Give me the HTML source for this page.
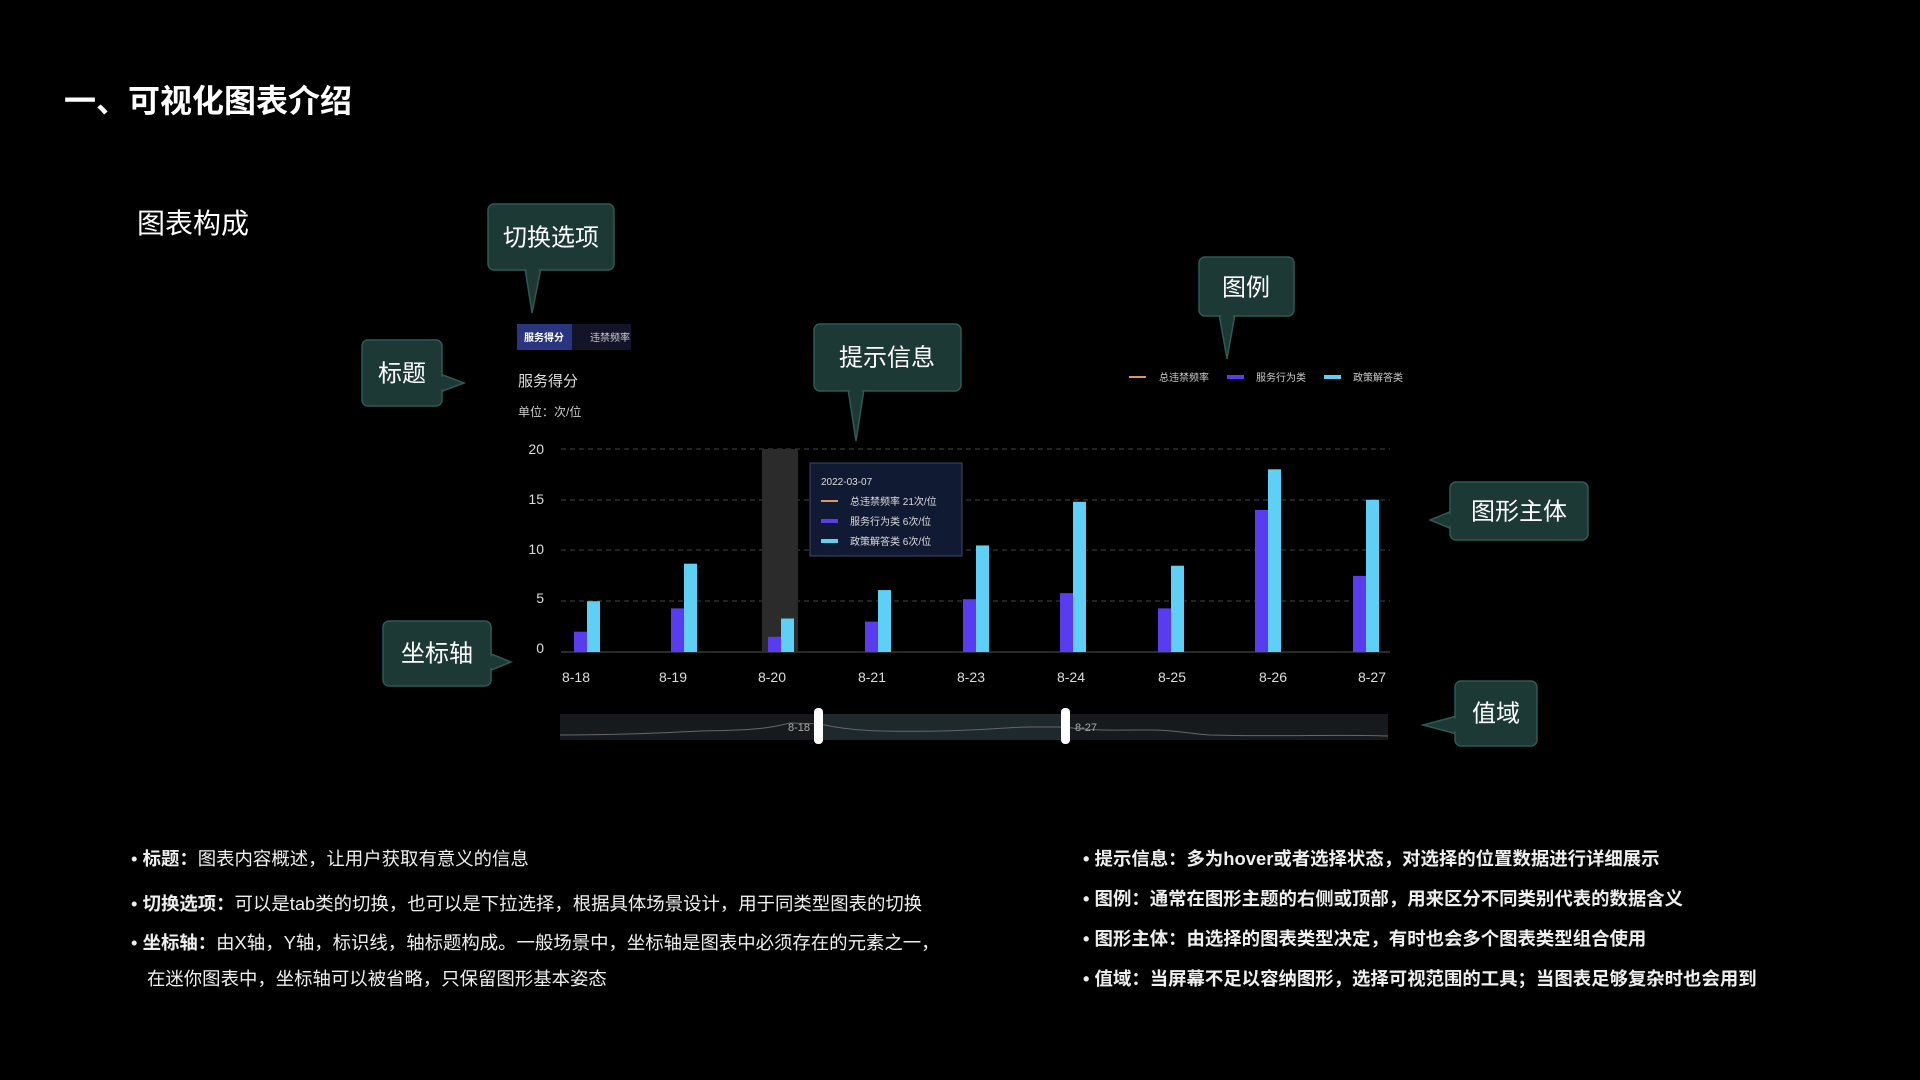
<!DOCTYPE html>
<html><head><meta charset="utf-8"><style>
html,body{margin:0;padding:0;background:#000;}
body{width:1920px;height:1080px;overflow:hidden;position:relative;font-family:"Liberation Sans","Noto Sans CJK SC",sans-serif;color:#fff;}
.t{position:absolute;white-space:nowrap;}
</style></head><body>
<svg width="1920" height="1080" viewBox="0 0 1920 1080" style="position:absolute;left:0;top:0" font-family="Liberation Sans, Noto Sans CJK SC, sans-serif">
<defs>
<style>.cb{fill:#1c3936;stroke:#2e5a53;stroke-width:1.5}.cf{fill:#1c3936}.ct{fill:#fff;font-size:24px;text-anchor:middle;dominant-baseline:central}</style>
</defs>
<text x="64" y="112" fill="#fff" font-size="32" font-weight="bold">一、可视化图表介绍</text>
<text x="137" y="233" fill="#fff" font-size="28">图表构成</text>

<polygon class="cb" points="525,268 541,268 532,313"/>
<rect class="cb" x="488" y="204" width="126" height="66" rx="6"/>
<polygon class="cf" points="526,266 540,266 532,290"/>
<text class="ct" x="551" y="238">切换选项</text>

<polygon class="cb" points="440,374 440,392 464,383"/>
<rect class="cb" x="362" y="340" width="80" height="66" rx="6"/>
<polygon class="cf" points="438,375 438,391 455,383"/>
<text class="ct" x="402" y="374">标题</text>

<polygon class="cb" points="848,389 864,389 856,441"/>
<rect class="cb" x="814" y="324" width="147" height="67" rx="6"/>
<polygon class="cf" points="849,387 863,387 856,410"/>
<text class="ct" x="887" y="358">提示信息</text>

<polygon class="cb" points="1219,314 1235,314 1227,359"/>
<rect class="cb" x="1199" y="257" width="95" height="59" rx="6"/>
<polygon class="cf" points="1220,312 1234,312 1227,335"/>
<text class="ct" x="1246" y="288">图例</text>

<polygon class="cb" points="1452,511 1452,529 1430,520"/>
<rect class="cb" x="1450" y="482" width="138" height="58" rx="6"/>
<polygon class="cf" points="1454,512 1454,528 1440,520"/>
<text class="ct" x="1519" y="512">图形主体</text>

<polygon class="cb" points="489,653 489,671 511,662"/>
<rect class="cb" x="383" y="621" width="108" height="65" rx="6"/>
<polygon class="cf" points="487,654 487,670 502,662"/>
<text class="ct" x="437" y="654">坐标轴</text>

<polygon class="cb" points="1457,716 1457,734 1423,725"/>
<rect class="cb" x="1455" y="681" width="82" height="65" rx="6"/>
<polygon class="cf" points="1459,717 1459,733 1440,725"/>
<text class="ct" x="1496" y="714">值域</text>

<rect x="517" y="324" width="114" height="26" fill="#13142a"/>
<rect x="517" y="324" width="55" height="26" fill="#2a3580"/>
<text x="544" y="341" fill="#fff" font-size="10" font-weight="bold" text-anchor="middle">服务得分</text>
<text x="610" y="341" fill="#ccc" font-size="10" text-anchor="middle">违禁频率</text>
<text x="518" y="386" fill="#ddd" font-size="15">服务得分</text>
<text x="518" y="416" fill="#ccc" font-size="12">单位：次/位</text>

<rect x="1129" y="376" width="17" height="2" fill="#e0965a"/>
<text x="1159" y="381" fill="#ccc" font-size="10">总违禁频率</text>
<rect x="1227" y="375" width="17" height="4" fill="#5a3cf0"/>
<text x="1256" y="381" fill="#ccc" font-size="10">服务行为类</text>
<rect x="1324" y="375" width="17" height="4" fill="#5fd0f5"/>
<text x="1353" y="381" fill="#ccc" font-size="10">政策解答类</text>

<g stroke="#444" stroke-dasharray="5,4" stroke-width="1">
<line x1="561" y1="449" x2="1390" y2="449"/>
<line x1="561" y1="500" x2="1390" y2="500"/>
<line x1="561" y1="550" x2="1390" y2="550"/>
<line x1="561" y1="601" x2="1390" y2="601"/>
</g>
<line x1="561" y1="652" x2="1390" y2="652" stroke="#555"/>
<g fill="#ddd" font-size="14" text-anchor="end">
<text x="544" y="454">20</text><text x="544" y="504">15</text><text x="544" y="554">10</text><text x="544" y="603">5</text><text x="544" y="653">0</text>
</g>
<rect x="762" y="449" width="36" height="203" fill="#2b2b2b"/>

<g id="bars"></g>
<g fill="#ddd" font-size="14" text-anchor="middle" id="xl"></g>

<rect x="810" y="463" width="152" height="93" fill="#111a33" stroke="#3a4a6a"/>
<text x="821" y="485" fill="#ddd" font-size="10">2022-03-07</text>
<rect x="821" y="500" width="17" height="2" fill="#e0965a"/>
<text x="850" y="505" fill="#ddd" font-size="10">总违禁频率  21次/位</text>
<rect x="821" y="519" width="17" height="4" fill="#5a3cf0"/>
<text x="850" y="525" fill="#ddd" font-size="10">服务行为类  6次/位</text>
<rect x="821" y="539" width="17" height="4" fill="#5fd0f5"/>
<text x="850" y="545" fill="#ddd" font-size="10">政策解答类  6次/位</text>

<rect x="560" y="714" width="828" height="26" fill="#161a1c"/>
<rect x="820" y="714" width="245" height="26" fill="#1e292b"/>
<path d="M560,735 C620,735 660,733 700,731 C760,730 770,728 790,723 L820,724 C850,731 880,732 940,731 C990,730 1010,727 1030,727 L1065,727 C1090,731 1120,730 1150,730 C1175,730 1185,733 1210,735 C1280,737 1340,734 1388,736" fill="none" stroke="#666" stroke-width="1"/>
<rect x="814" y="708" width="9" height="36" rx="4" fill="#fff"/>
<rect x="1061" y="708" width="9" height="36" rx="4" fill="#fff"/>
<text x="810" y="731" fill="#aaa" font-size="11" text-anchor="end">8-18</text>
<text x="1075" y="731" fill="#aaa" font-size="11">8-27</text>
</svg>

<div class="t" style="left:131px;top:845px;font-size:18.4px;color:#eee">• <b>标题：</b>图表内容概述，让用户获取有意义的信息</div>
<div class="t" style="left:131px;top:890px;font-size:18.4px;color:#eee">• <b>切换选项：</b>可以是tab类的切换，也可以是下拉选择，根据具体场景设计，用于同类型图表的切换</div>
<div class="t" style="left:131px;top:929px;font-size:18.4px;color:#eee">• <b>坐标轴：</b>由X轴，Y轴，标识线，轴标题构成。一般场景中，坐标轴是图表中必须存在的元素之一，</div>
<div class="t" style="left:147px;top:965px;font-size:18.4px;color:#eee">在迷你图表中，坐标轴可以被省略，只保留图形基本姿态</div>

<div class="t" style="left:1083px;top:845px;font-size:18.4px;color:#eee;font-weight:bold">• 提示信息：多为hover或者选择状态，对选择的位置数据进行详细展示</div>
<div class="t" style="left:1083px;top:885px;font-size:18.4px;color:#eee;font-weight:bold">• 图例：通常在图形主题的右侧或顶部，用来区分不同类别代表的数据含义</div>
<div class="t" style="left:1083px;top:925px;font-size:18.4px;color:#eee;font-weight:bold">• 图形主体：由选择的图表类型决定，有时也会多个图表类型组合使用</div>
<div class="t" style="left:1083px;top:965px;font-size:18.4px;color:#eee;font-weight:bold">• 值域：当屏幕不足以容纳图形，选择可视范围的工具；当图表足够复杂时也会用到</div>

<script>
(function(){
var ns="http://www.w3.org/2000/svg";
var ticks=[587,684,781,878,976,1073,1171,1268,1366];
var labels=["8-18","8-19","8-20","8-21","8-23","8-24","8-25","8-26","8-27"];
var lx=[576,673,772,872,971,1071,1172,1273,1372];
var p=[2,4.3,1.5,3,5.2,5.8,4.3,14,7.5];
var c=[5,8.7,3.3,6.1,10.5,14.8,8.5,18,15];
var g=document.getElementById("bars"),xl=document.getElementById("xl");
var base=652,u=10.15;
for(var i=0;i<9;i++){
 var r=document.createElementNS(ns,"rect");
 r.setAttribute("x",ticks[i]-13);r.setAttribute("width",13);
 r.setAttribute("y",base-p[i]*u);r.setAttribute("height",p[i]*u);r.setAttribute("fill","#5a3cf0");g.appendChild(r);
 r=document.createElementNS(ns,"rect");
 r.setAttribute("x",ticks[i]);r.setAttribute("width",13);
 r.setAttribute("y",base-c[i]*u);r.setAttribute("height",c[i]*u);r.setAttribute("fill","#5fd0f5");g.appendChild(r);
 var t=document.createElementNS(ns,"text");t.setAttribute("x",lx[i]);t.setAttribute("y",682);t.textContent=labels[i];xl.appendChild(t);
}
})();
</script>
</body></html>
